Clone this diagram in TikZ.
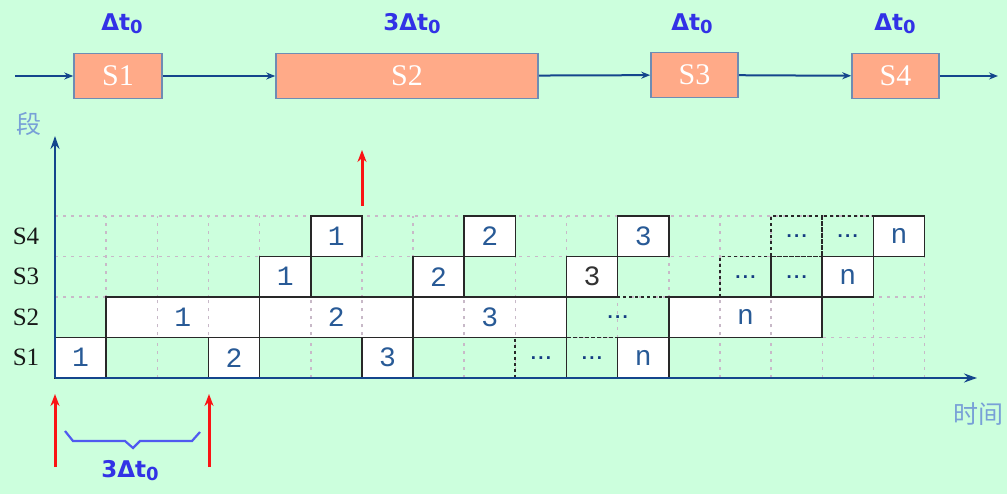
\documentclass[tikz,border=0pt]{standalone}
\usepackage{fontspec}
\newfontfamily\cjkfont{Noto Sans CJK SC}
\newfontfamily\djfont{DejaVu Sans}
\newfontfamily\serfont{Liberation Serif}
\newfontfamily\monfont{Liberation Mono}
\usetikzlibrary{arrows.meta}
\definecolor{bgc}{RGB}{204,255,221}
\definecolor{pboxfill}{RGB}{255,170,136}
\definecolor{pboxline}{RGB}{110,140,180}
\definecolor{lblblue}{RGB}{50,50,230}
\definecolor{axisblue}{RGB}{20,70,140}
\definecolor{numblue}{RGB}{40,90,150}
\definecolor{dotblue}{RGB}{20,60,130}
\definecolor{cellline}{RGB}{40,40,40}
\definecolor{gridc}{RGB}{200,185,200}
\definecolor{cjkblue}{RGB}{120,160,215}
\definecolor{redc}{RGB}{250,20,20}
\definecolor{bracec}{RGB}{80,90,240}
\newcommand\dtz{Δt\raisebox{-3pt}{\fontsize{18}{18}\selectfont 0}}
\newcommand\mydots{.\kern1.8pt.\kern1.8pt.}
\newcommand\gcell[6]{\node[#6, minimum width=#4*51.15pt] (#1) at ({#2+#4/2},{#3-0.5}) {#5};}
\tikzset{
 pbox/.style={draw=pboxline, line width=1.5pt, fill=pboxfill, text=white, inner sep=0pt,
   font=\serfont\fontsize{30}{30}\selectfont},
 toplbl/.style={text=lblblue, inner sep=0pt, font=\djfont\bfseries\fontsize{23}{23}\selectfont},
 flow/.style={draw=axisblue, line width=2pt, -{Stealth[length=9pt,width=7pt]}},
 cellbox/.style={draw=cellline, line width=1.6pt, fill=white, inner sep=0pt, minimum height=40.5pt,
   text=numblue, font=\monfont\fontsize{28}{28}\selectfont},
 dashcell/.style={draw=cellline, line width=1.8pt, dash pattern=on 3pt off 3pt, inner sep=0pt,
   minimum height=40.5pt, text=dotblue, font=\djfont\bfseries\fontsize{15}{15}\selectfont},
 gridl/.style={draw=gridc, line width=1.5pt, dash pattern=on 3pt off 5pt},
 axis/.style={draw=axisblue, line width=2.8pt, -{Stealth[length=13pt,width=9pt]}},
 redarr/.style={draw=redc, line width=3pt, -{Stealth[length=12pt,width=9pt]}},
 rowlbl/.style={inner sep=0pt, text=black!90, font=\serfont\fontsize{25}{25}\selectfont},
 cjklbl/.style={inner sep=0pt, text=cjkblue, font=\cjkfont\fontsize{25}{25}\selectfont},
 bracel/.style={draw=bracec, line width=2.2pt},
}
\begin{document}
\begin{tikzpicture}[x=1pt,y=-1pt]
\fill[bgc] (0,0) rectangle (1007,494);
\useasboundingbox (0,0) rectangle (1007,494);
% pipeline
\node[pbox, minimum width=88pt, minimum height=45pt] (P1) at (118,76) {S1};
\node[pbox, minimum width=262pt, minimum height=45pt] (P2) at (407,76) {S2};
\node[pbox, minimum width=87pt, minimum height=45pt] (P3) at (694.5,75) {S3};
\node[pbox, minimum width=87pt, minimum height=45pt] (P4) at (895.5,76) {S4};
\node[toplbl] (L1) at (122,24) {\dtz};
\node[toplbl] (L2) at (412,24) {3\dtz};
\node[toplbl] (L3) at (692,24) {\dtz};
\node[toplbl] (L4) at (895,24) {\dtz};
\coordinate (in0) at (15,76);
\coordinate (out0) at (998,76);
\draw[flow] (in0) -- (P1);
\draw[flow] (P1) -- (P2);
\draw[flow] (P2) -- (P3);
\draw[flow] (P3) -- (P4);
\draw[flow] (P4) -- (out0);
% chart
\begin{scope}[shift={(55,378)}, x=51.15pt, y=40.5pt]
 \foreach \r in {1,2,3,4} \draw[gridl] (0,\r) -- (17,\r);
 \foreach \c in {1,...,17} \draw[gridl] (\c,0) -- (\c,4);
 % S1
 \gcell{c11}{0}{1}{1}{1}{cellbox}
 \gcell{c12}{3}{1}{1}{2}{cellbox}
 \gcell{c13}{6}{1}{1}{3}{cellbox}
 \gcell{d11}{9}{1}{1}{\mydots}{dashcell}
 \gcell{d12}{10}{1}{1}{\mydots}{dashcell}
 \gcell{c1n}{11}{1}{1}{n}{cellbox}
 % S2
 \gcell{c21}{1}{2}{3}{1}{cellbox}
 \gcell{c22}{4}{2}{3}{2}{cellbox}
 \gcell{c23}{7}{2}{3}{3}{cellbox}
 \gcell{d21}{10}{2}{2}{\mydots}{dashcell}
 \gcell{c2n}{12}{2}{3}{n}{cellbox}
 \foreach \c in {2,3,5,6,8,9,13,14} \draw[gridl] (\c,1.05) -- (\c,1.95);
 % S3
 \gcell{c31}{4}{3}{1}{1}{cellbox}
 \gcell{c32}{7}{3}{1}{2}{cellbox}
 \gcell{c33}{10}{3}{1}{3}{cellbox, text=black!80}
 \gcell{d31}{13}{3}{1}{\mydots}{dashcell}
 \gcell{d32}{14}{3}{1}{\mydots}{dashcell}
 \gcell{c3n}{15}{3}{1}{n}{cellbox}
 % S4
 \gcell{c41}{5}{4}{1}{1}{cellbox}
 \gcell{c42}{8}{4}{1}{2}{cellbox}
 \gcell{c43}{11}{4}{1}{3}{cellbox}
 \gcell{d41}{14}{4}{1}{\mydots}{dashcell}
 \gcell{d42}{15}{4}{1}{\mydots}{dashcell}
 \gcell{c4n}{16}{4}{1}{n}{cellbox}
\end{scope}
% axes
\coordinate (O) at (55,378);
\coordinate (Ytop) at (55,136);
\coordinate (Xend) at (977,378);
\draw[axis] (O) -- (Ytop);
\draw[axis] (O) -- (Xend);
\node[cjklbl] (ylab) at (29,124) {段};
\node[cjklbl] (xlab) at (978,414) {时间};
\node[rowlbl] (R4) at (26,236) {S4};
\node[rowlbl] (R3) at (26,276) {S3};
\node[rowlbl] (R2) at (26,317) {S2};
\node[rowlbl] (R1) at (26,357) {S1};
% red arrows
\coordinate (ra0) at (55,467); \coordinate (ra1) at (55,394);
\coordinate (rb0) at (209,467); \coordinate (rb1) at (209,394);
\coordinate (rc0) at (362,206); \coordinate (rc1) at (362,150);
\draw[redarr] (ra0) -- (ra1);
\draw[redarr] (rb0) -- (rb1);
\draw[redarr] (rc0) -- (rc1);
% brace
\coordinate (b0) at (65,431); \coordinate (b1) at (73,441); \coordinate (b2) at (125,441);
\coordinate (b3) at (133,448); \coordinate (b4) at (140,441); \coordinate (b5) at (192,441);
\coordinate (b6) at (200,432);
\draw[bracel] (b0) -- (b1) -- (b2) -- (b3) -- (b4) -- (b5) -- (b6);
\node[toplbl] (Lb) at (130,471) {3\dtz};
\end{tikzpicture}
\end{document}
